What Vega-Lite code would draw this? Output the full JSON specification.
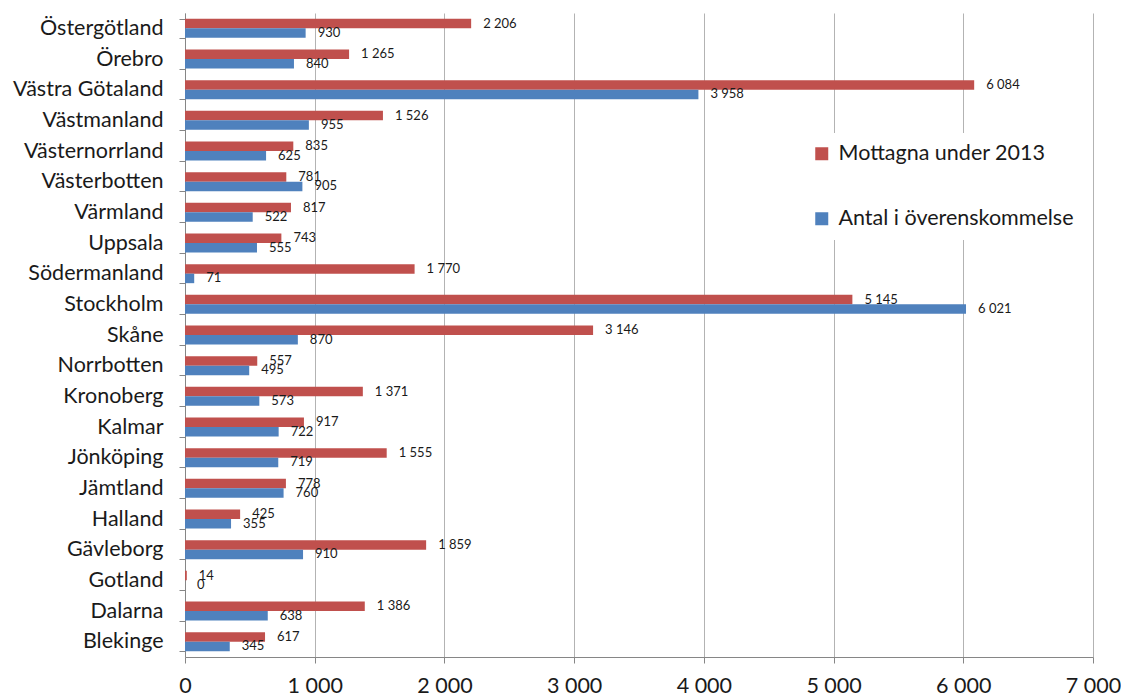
{
  "$schema": "https://vega.github.io/schema/vega-lite/v6.json",
  "autosize": {"type": "none"},
  "width": 908,
  "height": 644,
  "padding": {"left": 185, "top": 13, "right": 28, "bottom": 40},
  "background": "white",
  "config": {
    "locale": {"number": {"decimal": ",", "thousands": " ", "grouping": [3], "currency": ["", " kr"]}},
    "font": "Lato",
    "view": {"stroke": null}
  },
  "data": {
    "values": [
      {"lan": "Östergötland", "serie": "Mottagna under 2013", "antal": 2206},
      {"lan": "Östergötland", "serie": "Antal i överenskommelse", "antal": 930},
      {"lan": "Örebro", "serie": "Mottagna under 2013", "antal": 1265},
      {"lan": "Örebro", "serie": "Antal i överenskommelse", "antal": 840},
      {"lan": "Västra Götaland", "serie": "Mottagna under 2013", "antal": 6084},
      {"lan": "Västra Götaland", "serie": "Antal i överenskommelse", "antal": 3958},
      {"lan": "Västmanland", "serie": "Mottagna under 2013", "antal": 1526},
      {"lan": "Västmanland", "serie": "Antal i överenskommelse", "antal": 955},
      {"lan": "Västernorrland", "serie": "Mottagna under 2013", "antal": 835},
      {"lan": "Västernorrland", "serie": "Antal i överenskommelse", "antal": 625},
      {"lan": "Västerbotten", "serie": "Mottagna under 2013", "antal": 781},
      {"lan": "Västerbotten", "serie": "Antal i överenskommelse", "antal": 905},
      {"lan": "Värmland", "serie": "Mottagna under 2013", "antal": 817},
      {"lan": "Värmland", "serie": "Antal i överenskommelse", "antal": 522},
      {"lan": "Uppsala", "serie": "Mottagna under 2013", "antal": 743},
      {"lan": "Uppsala", "serie": "Antal i överenskommelse", "antal": 555},
      {"lan": "Södermanland", "serie": "Mottagna under 2013", "antal": 1770},
      {"lan": "Södermanland", "serie": "Antal i överenskommelse", "antal": 71},
      {"lan": "Stockholm", "serie": "Mottagna under 2013", "antal": 5145},
      {"lan": "Stockholm", "serie": "Antal i överenskommelse", "antal": 6021},
      {"lan": "Skåne", "serie": "Mottagna under 2013", "antal": 3146},
      {"lan": "Skåne", "serie": "Antal i överenskommelse", "antal": 870},
      {"lan": "Norrbotten", "serie": "Mottagna under 2013", "antal": 557},
      {"lan": "Norrbotten", "serie": "Antal i överenskommelse", "antal": 495},
      {"lan": "Kronoberg", "serie": "Mottagna under 2013", "antal": 1371},
      {"lan": "Kronoberg", "serie": "Antal i överenskommelse", "antal": 573},
      {"lan": "Kalmar", "serie": "Mottagna under 2013", "antal": 917},
      {"lan": "Kalmar", "serie": "Antal i överenskommelse", "antal": 722},
      {"lan": "Jönköping", "serie": "Mottagna under 2013", "antal": 1555},
      {"lan": "Jönköping", "serie": "Antal i överenskommelse", "antal": 719},
      {"lan": "Jämtland", "serie": "Mottagna under 2013", "antal": 778},
      {"lan": "Jämtland", "serie": "Antal i överenskommelse", "antal": 760},
      {"lan": "Halland", "serie": "Mottagna under 2013", "antal": 425},
      {"lan": "Halland", "serie": "Antal i överenskommelse", "antal": 355},
      {"lan": "Gävleborg", "serie": "Mottagna under 2013", "antal": 1859},
      {"lan": "Gävleborg", "serie": "Antal i överenskommelse", "antal": 910},
      {"lan": "Gotland", "serie": "Mottagna under 2013", "antal": 14},
      {"lan": "Gotland", "serie": "Antal i överenskommelse", "antal": 0},
      {"lan": "Dalarna", "serie": "Mottagna under 2013", "antal": 1386},
      {"lan": "Dalarna", "serie": "Antal i överenskommelse", "antal": 638},
      {"lan": "Blekinge", "serie": "Mottagna under 2013", "antal": 617},
      {"lan": "Blekinge", "serie": "Antal i överenskommelse", "antal": 345}
    ]
  },
  "encoding": {
    "y": {
      "field": "lan",
      "type": "nominal",
      "sort": null,
      "scale": {"paddingInner": 0.38, "paddingOuter": 0.19},
      "axis": {
        "title": null,
        "grid": false,
        "domainColor": "#868686",
        "tickColor": "#868686",
        "tickBand": "extent",
        "tickSize": 6,
        "labelFontSize": 21.5,
        "labelColor": "#1a1a1a",
        "labelPadding": 16
      }
    },
    "yOffset": {
      "field": "serie",
      "type": "nominal",
      "sort": ["Mottagna under 2013", "Antal i överenskommelse"]
    },
    "x": {
      "field": "antal",
      "type": "quantitative",
      "scale": {"domain": [0, 7000], "nice": false},
      "axis": {
        "title": null,
        "values": [0, 1000, 2000, 3000, 4000, 5000, 6000, 7000],
        "format": ",d",
        "grid": true,
        "gridColor": "#b3b3b3",
        "domainColor": "#868686",
        "tickColor": "#868686",
        "tickSize": 6,
        "labelFontSize": 21.5,
        "labelColor": "#1a1a1a",
        "labelPadding": 12,
        "labelFlush": false
      }
    }
  },
  "layer": [
    {
      "mark": {"type": "bar", "stroke": null},
      "encoding": {
        "color": {
          "field": "serie",
          "type": "nominal",
          "scale": {
            "domain": ["Mottagna under 2013", "Antal i överenskommelse"],
            "range": ["#c0504d", "#4f81bd"]
          },
          "legend": {
            "title": null,
            "orient": "none",
            "legendX": 616,
            "legendY": 120,
            "padding": 10,
            "fillColor": "white",
            "symbolType": "square",
            "symbolSize": 169,
            "symbolStrokeWidth": 0,
            "labelFontSize": 21.5,
            "labelColor": "#1a1a1a",
            "labelOffset": 6,
            "rowPadding": 42,
            "labelLimit": 400
          }
        }
      }
    },
    {
      "mark": {"type": "text", "align": "left", "baseline": "middle", "dx": 12, "fontSize": 13, "color": "#1a1a1a"},
      "encoding": {
        "text": {"field": "antal", "type": "quantitative", "format": ",d"}
      }
    }
  ]
}
